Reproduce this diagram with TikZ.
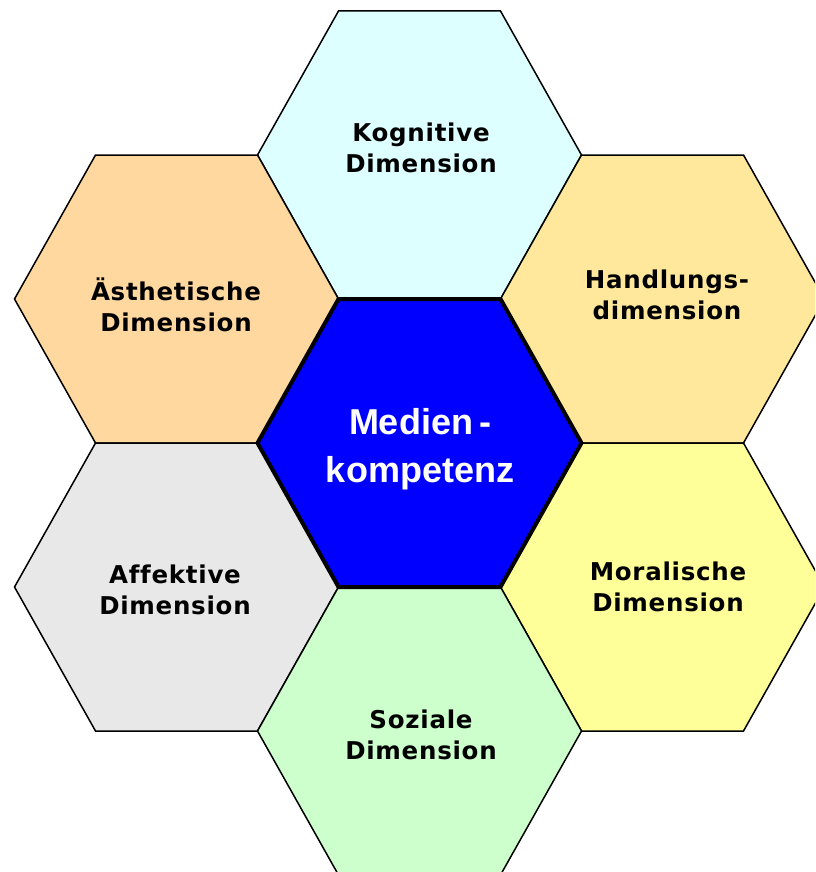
\documentclass[tikz,border=0pt]{standalone}
\usepackage{fontspec}
\newfontfamily\labfont[LetterSpace=3,Ligatures=NoCommon]{DejaVu Sans}
\newfontfamily\cenfont{Liberation Sans}
\definecolor{hkog}{HTML}{DDFFFF}
\definecolor{haes}{HTML}{FFD8A0}
\definecolor{hhan}{HTML}{FFE89C}
\definecolor{haff}{HTML}{E8E8E8}
\definecolor{hmor}{HTML}{FFFF99}
\definecolor{hsoz}{HTML}{CCFFCC}
\definecolor{hmed}{HTML}{0000FF}
\tikzset{
  outerhex/.style={draw=black, line width=1.5pt, line join=miter},
  centerhex/.style={draw=black, line width=4pt, line join=miter, fill=hmed},
  lab/.style={anchor=base, inner sep=0pt, text=black,
    font=\labfont\bfseries\fontsize{24.5}{30}\selectfont},
  cenlab/.style={anchor=base, inner sep=0pt, text=white,
    font=\cenfont\bfseries\fontsize{36}{48}\selectfont}
}
\newcommand\hexagonat[2]{%
  \path[#2, shift={#1}] (-162,0) -- (-81,-144) -- (81,-144) -- (162,0)
    -- (81,144) -- (-81,144) -- cycle;}
\begin{document}
\begin{tikzpicture}[x=1pt,y=-1pt]
\useasboundingbox (0,0) rectangle (815,872);
\clip (0,0) rectangle (815,872);
\hexagonat{(419.5,155)}{outerhex, fill=hkog}
\hexagonat{(176.5,299)}{outerhex, fill=haes}
\hexagonat{(662.5,299)}{outerhex, fill=hhan}
\hexagonat{(176.5,587)}{outerhex, fill=haff}
\hexagonat{(662.5,587)}{outerhex, fill=hmor}
\hexagonat{(419.5,731)}{outerhex, fill=hsoz}
\hexagonat{(419.5,443)}{centerhex}
\node[lab] (kog1) at (421,141) {Kognitive};
\node[lab] (kog2) at (421,172) {Dimension};
\node[lab] (aes1) at (176,300) {Ästhetische};
\node[lab] (aes2) at (176,331) {Dimension};
\node[lab] (han1) at (667,288) {Handlungs-};
\node[lab] (han2) at (667,319) {dimension};
\node[lab] (aff1) at (175,583) {Affektive};
\node[lab] (aff2) at (175,614) {Dimension};
\node[lab] (mor1) at (668,580) {Moralische};
\node[lab] (mor2) at (668,611) {Dimension};
\node[lab] (soz1) at (421,728) {Soziale};
\node[lab] (soz2) at (421,759) {Dimension};
\node[cenlab] (med1) at (420,434) {Medien\,-};
\node[cenlab] (med2) at (420,482) {kompetenz};
\end{tikzpicture}
\end{document}
